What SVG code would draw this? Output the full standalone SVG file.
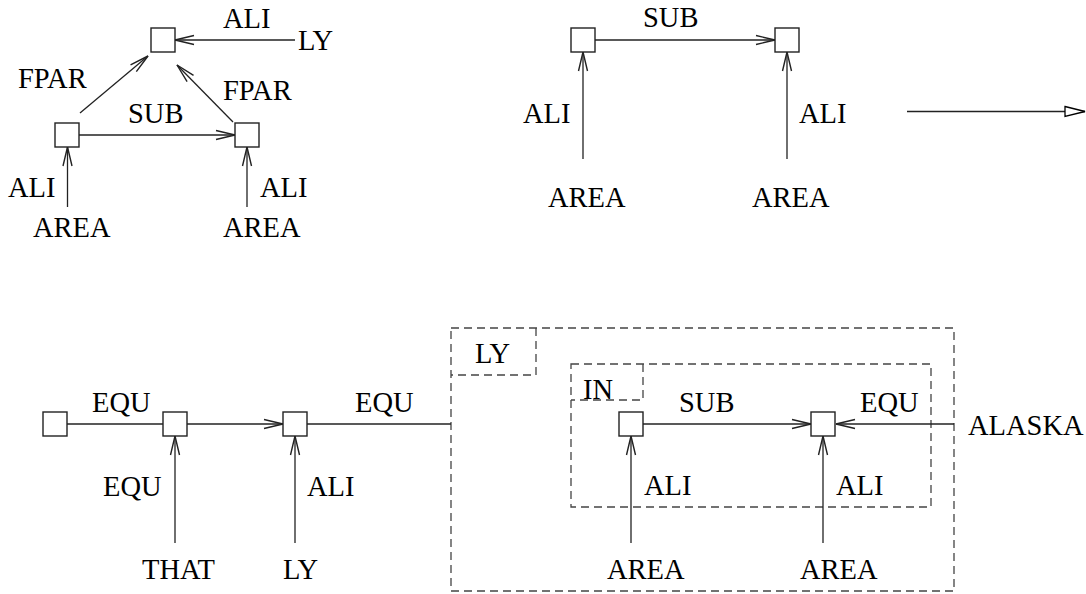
<svg xmlns="http://www.w3.org/2000/svg" width="1086" height="594" viewBox="0 0 1086 594">
<style>
.bx{fill:#fff;stroke:#222;stroke-width:1.4}
.ln{fill:none;stroke:#222;stroke-width:1.3}
.ds{fill:none;stroke:#444;stroke-width:1.3;stroke-dasharray:8 5}
text{font-family:"Liberation Serif","Times New Roman",serif;font-size:28.5px;fill:#000}
</style>
<defs>
<marker id="ah" markerUnits="userSpaceOnUse" markerWidth="24" markerHeight="14" viewBox="-21 -7 24 14" refX="0" refY="0" orient="auto">
<path d="M-19,-4.5 L0,0 L-19,4.5" fill="none" stroke="#222" stroke-width="1.4"/>
</marker>
<marker id="tri" markerUnits="userSpaceOnUse" markerWidth="24" markerHeight="14" viewBox="-21 -7 24 14" refX="0" refY="0" orient="auto">
<path d="M-20,-5 L0,0 L-20,5 Z" fill="#fff" stroke="#000" stroke-width="1.3"/>
</marker>
</defs>
<rect width="1086" height="594" fill="#fff"/>
<g id="frames">
<rect class="ds" x="451" y="328" width="503" height="263"/>
<path class="ds" d="M536,328 V375 H451"/>
<rect class="ds" x="571" y="364" width="360" height="143"/>
<path class="ds" d="M643,364 V400 H571"/>
</g>
<g id="connectors">
<line class="ln" x1="295" y1="40" x2="175" y2="40" marker-end="url(#ah)"/>
<line class="ln" x1="80" y1="113" x2="148" y2="56" marker-end="url(#ah)"/>
<line class="ln" x1="233" y1="122" x2="177" y2="65" marker-end="url(#ah)"/>
<line class="ln" x1="79" y1="135" x2="235" y2="135" marker-end="url(#ah)"/>
<line class="ln" x1="67.5" y1="207" x2="67.5" y2="147" marker-end="url(#ah)"/>
<line class="ln" x1="247" y1="207" x2="247" y2="147" marker-end="url(#ah)"/>
<line class="ln" x1="595" y1="40" x2="775" y2="40" marker-end="url(#ah)"/>
<line class="ln" x1="583" y1="159" x2="583" y2="52" marker-end="url(#ah)"/>
<line class="ln" x1="787" y1="159" x2="787" y2="52" marker-end="url(#ah)"/>
<line class="ln" x1="907" y1="111.5" x2="1085" y2="111.5" marker-end="url(#tri)"/>
<line class="ln" x1="67" y1="424" x2="163" y2="424"/>
<line class="ln" x1="187" y1="424" x2="283" y2="424" marker-end="url(#ah)"/>
<line class="ln" x1="307" y1="424" x2="451" y2="424"/>
<line class="ln" x1="175" y1="543" x2="175" y2="436" marker-end="url(#ah)"/>
<line class="ln" x1="295" y1="543" x2="295" y2="436" marker-end="url(#ah)"/>
<line class="ln" x1="643" y1="424" x2="811" y2="424" marker-end="url(#ah)"/>
<line class="ln" x1="954" y1="424" x2="836" y2="424" marker-end="url(#ah)"/>
<line class="ln" x1="631" y1="543" x2="631" y2="436" marker-end="url(#ah)"/>
<line class="ln" x1="823" y1="543" x2="823" y2="436" marker-end="url(#ah)"/>
</g>
<g id="n1"><rect class="bx" x="151" y="28" width="24" height="24"/></g>
<g id="n2"><rect class="bx" x="55" y="123" width="24" height="24"/></g>
<g id="n3"><rect class="bx" x="235" y="123" width="24" height="24"/></g>
<g id="n4"><rect class="bx" x="571" y="28" width="24" height="24"/></g>
<g id="n5"><rect class="bx" x="775" y="28" width="24" height="24"/></g>
<g id="n6"><rect class="bx" x="43" y="412" width="24" height="24"/></g>
<g id="n7"><rect class="bx" x="163" y="412" width="24" height="24"/></g>
<g id="n8"><rect class="bx" x="283" y="412" width="24" height="24"/></g>
<g id="n9"><rect class="bx" x="619" y="412" width="24" height="24"/></g>
<g id="n10"><rect class="bx" x="811" y="412" width="24" height="24"/></g>
<g id="labels">
<text x="223" y="28">ALI</text>
<text x="298" y="50">LY</text>
<text x="18" y="88">FPAR</text>
<text x="223" y="100">FPAR</text>
<text x="128" y="123">SUB</text>
<text x="8" y="197">ALI</text>
<text x="260" y="197">ALI</text>
<text x="33" y="237">AREA</text>
<text x="223" y="237">AREA</text>
<text x="643" y="27">SUB</text>
<text x="523" y="123">ALI</text>
<text x="799" y="123">ALI</text>
<text x="548" y="207">AREA</text>
<text x="752" y="207">AREA</text>
<text x="92" y="412">EQU</text>
<text x="355" y="412">EQU</text>
<text x="103" y="496">EQU</text>
<text x="307" y="496">ALI</text>
<text x="142" y="579">THAT</text>
<text x="283" y="579">LY</text>
<text x="475" y="363">LY</text>
<text x="583" y="399">IN</text>
<text x="679" y="412">SUB</text>
<text x="860" y="412">EQU</text>
<text x="968" y="435">ALASKA</text>
<text x="644" y="495">ALI</text>
<text x="836" y="495">ALI</text>
<text x="607" y="579">AREA</text>
<text x="800" y="579">AREA</text>
</g>
</svg>
